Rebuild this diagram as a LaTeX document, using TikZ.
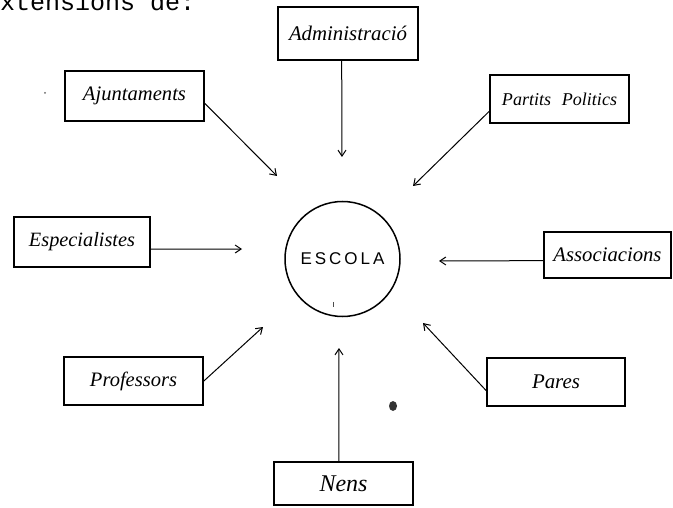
\documentclass[tikz,border=0pt]{standalone}
\usepackage{fontspec}
\usepackage{graphicx}
\setmainfont{Liberation Serif}
\newfontfamily\typewriter{Liberation Mono}
\newfontfamily\capsfont{Liberation Sans}
\usetikzlibrary{arrows.meta}
% handwritten-looking label scaled to a given width
\newcommand{\handlabel}[2]{\resizebox{#1}{!}{\itshape #2}}
\begin{document}
\begin{tikzpicture}[x=1pt,y=-1pt,
  agent/.style={draw, line width=1.7pt, inner sep=0pt, rectangle},
  link/.style={line width=1pt, -{Straight Barb[length=6pt,width=8pt]}},
  hub/.style={draw, circle, line width=1.5pt, minimum size=115pt, inner sep=0pt}]
\clip (0,0) rectangle (673,508);
\fill[white] (0,0) rectangle (673,508);

% line of typed text running off the top edge
\node[anchor=base west, inner sep=0pt, font=\typewriter\fontsize{25}{25}\selectfont] (intro) at (-15,11) {extensions de:};

% the school in the middle
\node[hub] (escola) at (342.5,259) {\capsfont\fontsize{17}{17}\selectfont E\hspace{3pt}S\hspace{3pt}C\hspace{3pt}O\hspace{3pt}L\hspace{3pt}A};

% surrounding agents
\node[agent, minimum width=140pt, minimum height=53pt] (adm) at (348,33.5) {\handlabel{118pt}{Administració}};
\node[agent, minimum width=139pt, minimum height=50pt] (aju) at (134.5,96) {\handlabel{103pt}{Ajuntaments}};
\node[agent, minimum width=139pt, minimum height=48pt] (par) at (559.5,99) {\handlabel{115pt}{Partits\hspace{0.6em}Politics}};
\node[agent, minimum width=136pt, minimum height=50pt] (esp) at (82,242) {\handlabel{106pt}{Especialistes}};
\node[agent, minimum width=127pt, minimum height=46pt] (ass) at (607.5,255) {\handlabel{108pt}{Associacions}};
\node[agent, minimum width=139pt, minimum height=48pt] (pro) at (133.5,381) {\handlabel{87pt}{Professors}};
\node[agent, minimum width=138pt, minimum height=48pt] (pa) at (556,382) {\handlabel{48pt}{Pares}};
\node[agent, minimum width=139pt, minimum height=43pt] (nen) at (343.5,483.5) {\handlabel{48pt}{Nens}};

% free ends of the arrows, short of the circle
\coordinate (adm-end) at (342,157);
\coordinate (aju-end) at (277,176);
\coordinate (par-end) at (413,186);
\coordinate (esp-end) at (242,249);
\coordinate (ass-end) at (439,261);
\coordinate (pro-end) at (263,327);
\coordinate (pa-end) at (423,323);
\coordinate (nen-end) at (339,348);

\draw[link] (adm.257) -- (adm-end);
\draw[link] (aju.-6) -- (aju-end);
\draw[link] (par.190) -- (par-end);
\draw[link] (esp.-6) -- (esp-end);
\draw[link] (ass.185) -- (ass-end);
\draw[link] (pro.east) -- (pro-end);
\draw[link] (pa.187) -- (pa-end);
\draw[link] (nen.102) -- (nen-end);

% stray ink marks on the sheet
\fill[black!80] (393,406) ellipse (4pt and 5pt);
\fill[black!60] (45,93) circle (1pt);
\draw[black!70, line width=0.8pt] (333,302) -- (333,307);
\end{tikzpicture}
\end{document}
